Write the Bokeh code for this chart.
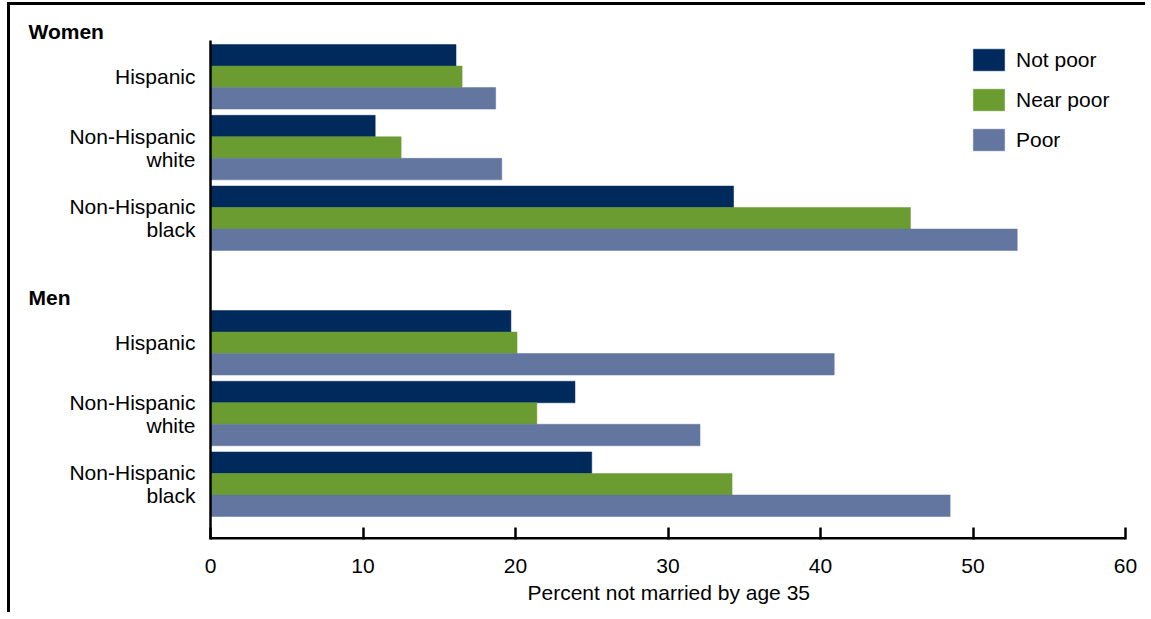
from bokeh.plotting import figure
from bokeh.models import Range1d, FixedTicker, Legend, LegendItem, Title
from bokeh.embed import file_html
from bokeh.resources import INLINE

# ---- data ----
sexes = ["Women", "Men"]
races = ["Hispanic", "Non-Hispanic\nwhite", "Non-Hispanic\nblack"]
poverty = ["Not poor", "Near poor", "Poor"]
colors = ["#002a5c", "#6a9c31", "#62769f"]

# order: Women (Hispanic, NH white, NH black), Men (Hispanic, NH white, NH black)
not_poor = [16.1, 10.8, 34.3, 19.7, 23.9, 25.0]
near_poor = [16.5, 12.5, 45.9, 20.1, 21.4, 34.2]
poor = [18.7, 19.1, 52.9, 40.9, 32.1, 48.5]
series = [not_poor, near_poor, poor]
x_ticks = [0, 10, 20, 30, 40, 50, 60]
x_label = "Percent not married by age 35"

# ---- layout (in bar-height units / pixels) ----
TOP_PAD = 0.19
RACE_GAP = 0.29
SEX_GAP = 2.79
BOTTOM = 23.21
BLOCK = 3 * len(poverty) + 2 * RACE_GAP

FONT = "Liberation Sans"
FS = "21px"

W, H = 1138, 610
BL, BR, BT, BB = 10, 23, 10, 76
LABEL_AREA = 190           # px between frame left and x = 0
TOP_AREA = 25              # px between frame top and the y axis top
FRAME_W = W - BL - BR
FRAME_H = H - BT - BB
PPU = (FRAME_W - LABEL_AREA) / x_ticks[-1]
PPY = (FRAME_H - TOP_AREA) / BOTTOM
X0 = -LABEL_AREA / PPU
Y_TOP = -TOP_AREA / PPY


def group_top(s, r):
    return TOP_PAD + s * (BLOCK + SEX_GAP) + r * (3 + RACE_GAP)


p = figure(width=W, height=H, output_backend="svg", toolbar_location=None,
           x_range=Range1d(X0, x_ticks[-1]), y_range=Range1d(BOTTOM, Y_TOP),
           y_axis_location=None,
           min_border_left=BL, min_border_right=BR, min_border_top=BT, min_border_bottom=BB)
p.styles = {"border-top": "3px solid black", "border-left": "3px solid black",
            "margin-top": "2px", "margin-left": "7px"}

renderers = []
for k, (vals, col) in enumerate(zip(series, colors)):
    ys, xs = [], []
    for s in range(len(sexes)):
        for r in range(len(races)):
            ys.append(group_top(s, r) + k + 0.5)
            xs.append(vals[s * len(races) + r])
    rr = p.hbar(y=ys, left=0, right=xs, height=1.0, fill_color=col,
                line_color=col, line_width=0.5)
    renderers.append(rr)

# axis lines (y axis at x=0, x axis line along the frame bottom)
p.segment(x0=[0], y0=[0], x1=[0], y1=[BOTTOM], line_color="black", line_width=2.5)
p.segment(x0=[0], y0=[BOTTOM], x1=[x_ticks[-1]], y1=[BOTTOM], line_color="black", line_width=5)

# category labels
race_centers = [group_top(s, r) + 1.5 for s in range(len(sexes)) for r in range(len(races))]
race_texts = [races[r] for s in range(len(sexes)) for r in range(len(races))]
p.text(x=[0] * len(race_centers), y=race_centers, text=race_texts, x_offset=-15,
       text_align="right", text_baseline="middle", text_font={"value": FONT},
       text_font_size={"value": FS}, text_color="black", text_line_height=1.0)

# section labels
p.text(x=[(28 - 210) / PPU] * len(sexes), y=[group_top(s, 0) - 0.6 for s in range(len(sexes))],
       text=sexes, text_align="left", text_baseline="middle", text_font={"value": FONT},
       text_font_size={"value": FS}, text_font_style="bold", text_color="black")

legend = Legend(items=[LegendItem(label=lab, renderers=[rr]) for lab, rr in zip(poverty, renderers)],
                location=(759 + LABEL_AREA, 386))
legend.glyph_width = 39
legend.glyph_height = 27
legend.label_height = 27
legend.spacing = 13
legend.label_standoff = 8
legend.padding = 0
legend.margin = 0
legend.border_line_color = None
legend.background_fill_alpha = 0
legend.label_text_font = FONT
legend.label_text_font_size = FS
legend.label_text_color = "black"
p.add_layout(legend)

p.xaxis.ticker = FixedTicker(ticks=x_ticks)
p.xaxis.major_tick_in = 12
p.xaxis.major_tick_out = 0
p.xaxis.minor_tick_line_color = None
p.xaxis.axis_line_color = None
p.xaxis.major_tick_line_width = 2.5
p.xaxis.major_tick_line_color = "black"
p.xaxis.major_label_standoff = 19
p.xaxis.major_label_text_font = FONT
p.xaxis.major_label_text_font_size = FS
p.xaxis.major_label_text_color = "black"

p.add_layout(Title(text=x_label, align="left", offset=507, standoff=6,
                   text_font=FONT, text_font_size=FS, text_font_style="normal",
                   text_color="black"), "below")

p.xgrid.grid_line_color = None
p.ygrid.grid_line_color = None
p.outline_line_color = None

open("out.html", "w").write(file_html(p, INLINE))
